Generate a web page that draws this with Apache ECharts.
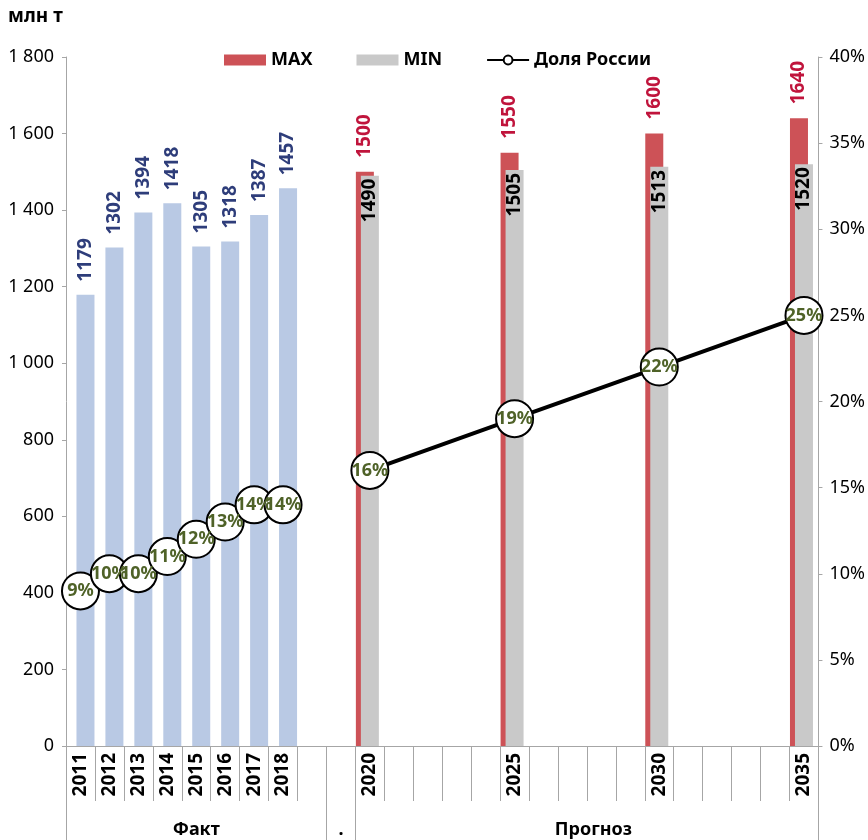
<!DOCTYPE html>
<html>
<head>
<meta charset="utf-8">
<script src="https://cdn.jsdelivr.net/npm/echarts@6/dist/echarts.min.js"></script>
<style>
  html, body { margin: 0; padding: 0; background: #fff; }
  #chart { width: 868px; height: 840px; }
</style>
</head>
<body>
<div id="chart"></div>
<script>
// Category slots along the bottom axis ('' = empty slot)
const years = ['2011','2012','2013','2014','2015','2016','2017','2018','','',
               '2020','','','','','2025','','','','','2030','','','','','2035'];

// Actual production, mln t
const factYears  = ['2011','2012','2013','2014','2015','2016','2017','2018'];
const factValues = [1179, 1302, 1394, 1418, 1305, 1318, 1387, 1457];

// Forecast range, mln t
const forecastYears = ['2020','2025','2030','2035'];
const maxValues = [1500, 1550, 1600, 1640];
const minValues = [1490, 1505, 1513, 1520];

// Russia's share, %
const shareFact     = [9, 10, 10, 11, 12, 13, 14, 14];
const shareForecast = [16, 19, 22, 25];

// Group row under the years: name, first slot, label slot
const groupNames = ['Факт', '.', 'Прогноз'];
const groupStarts = [0, 9, 10];
const groupLabelSlots = [4, 9, 18];

const FONT = 'Noto Sans';

function alignTo(keys, values) {
  const out = years.map(() => null);
  keys.forEach((k, i) => { out[years.indexOf(k)] = values[i]; });
  return out;
}

const factData = alignTo(factYears, factValues);
const maxData = alignTo(forecastYears, maxValues);
const minData = alignTo(forecastYears, minValues);
const shareFactData = alignTo(factYears, shareFact);
const shareForecastData = alignTo(forecastYears, shareForecast);

// second-row categories: group name in its label slot
const groupRow = years.map((_, i) => {
  const g = groupLabelSlots.indexOf(i);
  return g >= 0 ? groupNames[g] : '';
});

const thousands = v => String(v).replace(/\B(?=(\d{3})+(?!\d))/g, ' ');

const axisGrey = '#a6a6a6';

const chart = echarts.init(document.getElementById('chart'), null, { renderer: 'canvas' });

const rotLabelBase = {
  show: true,
  rotate: 90,
  fontFamily: FONT,
  fontWeight: 'bold',
  fontSize: 19,
  verticalAlign: 'middle'
};

const shareLabel = {
  show: true,
  position: 'inside',
  formatter: p => p.value + '%',
  fontFamily: FONT,
  fontWeight: 'bold',
  fontSize: 18,
  color: '#4f6228'
};

chart.setOption({
  animation: false,
  backgroundColor: '#ffffff',
  title: {
    text: 'млн т',
    left: 3,
    top: 2,
    textStyle: { fontFamily: FONT, fontWeight: 'bold', fontSize: 19, color: '#000' }
  },
  legend: {
    data: [
      { name: 'MAX', icon: 'rect' },
      { name: 'MIN', icon: 'rect' },
      { name: 'Доля России' }
    ],
    left: 219,
    top: 46,
    itemWidth: 42,
    itemHeight: 11,
    itemGap: 44,
    textStyle: { fontFamily: FONT, fontWeight: 'bold', fontSize: 18, color: '#000' }
  },
  grid: { left: 66, right: 49, top: 57, bottom: 94, containLabel: false },
  xAxis: [
    {
      type: 'category',
      data: years,
      boundaryGap: true,
      axisLine: { show: true, lineStyle: { color: axisGrey, width: 1 } },
      axisTick: { show: true, interval: 0, length: 55, lineStyle: { color: axisGrey } },
      axisLabel: {
        interval: 0,
        rotate: 90,
        margin: 7,
        fontFamily: FONT,
        fontWeight: 'bold',
        fontSize: 19,
        color: '#000'
      },
      splitLine: { show: false }
    },
    {
      // group row: long separators at each group start and at the end
      type: 'category',
      data: groupRow,
      position: 'bottom',
      boundaryGap: true,
      axisLine: { show: false },
      axisTick: {
        show: true,
        interval: idx => groupStarts.indexOf(idx) >= 0,
        length: 94,
        lineStyle: { color: axisGrey, width: 1 }
      },
      axisLabel: {
        interval: 0,
        formatter: v => v === 'Прогноз' ? '{p|' + v + '}' : v,
        rich: { p: { padding: [0, 16, 0, 0], fontFamily: FONT, fontWeight: 'bold', fontSize: 18, color: '#000' } },
        margin: 75,
        fontFamily: FONT,
        fontWeight: 'bold',
        fontSize: 18,
        color: '#000'
      },
      splitLine: { show: false }
    }
  ],
  yAxis: [
    {
      type: 'value',
      min: 0,
      max: 1800,
      interval: 200,
      axisLine: { show: true, lineStyle: { color: axisGrey } },
      axisTick: { show: true, length: 4, lineStyle: { color: axisGrey } },
      axisLabel: {
        formatter: v => thousands(v),
        margin: 12,
        fontFamily: FONT,
        fontSize: 18,
        color: '#000'
      },
      splitLine: { show: false }
    },
    {
      type: 'value',
      position: 'right',
      min: 0,
      max: 40,
      interval: 5,
      axisLine: { show: true, lineStyle: { color: axisGrey } },
      axisTick: { show: true, length: 4, lineStyle: { color: axisGrey } },
      axisLabel: {
        formatter: v => v + '%',
        margin: 11,
        fontFamily: FONT,
        fontSize: 18,
        color: '#000'
      },
      splitLine: { show: false }
    }
  ],
  series: [
    {
      name: 'MAX',
      type: 'bar',
      data: maxData,
      barWidth: 18,
      barGap: '-72.2%',
      itemStyle: { color: '#cd5257' },
      label: Object.assign({}, rotLabelBase, {
        position: 'top', align: 'left', distance: 14, color: '#c0143c'
      }),
      z: 2
    },
    {
      name: 'MIN',
      type: 'bar',
      data: minData,
      barWidth: 18,
      barGap: '-72.2%',
      itemStyle: { color: '#c9c9c9' },
      label: Object.assign({}, rotLabelBase, {
        position: 'insideTop', align: 'right', distance: 3, color: '#000'
      }),
      z: 3
    },
    {
      name: 'Факт',
      type: 'bar',
      data: factData,
      barWidth: 18,
      barGap: '-72.2%',
      itemStyle: { color: '#b9c9e4' },
      label: Object.assign({}, rotLabelBase, {
        position: 'top', align: 'left', distance: 13, color: '#2e3d7a'
      }),
      z: 2
    },
    {
      name: 'Доля России',
      type: 'line',
      yAxisIndex: 1,
      data: shareFactData,
      connectNulls: false,
      symbol: 'circle',
      symbolSize: 37,
      lineStyle: { color: '#000', width: 4 },
      itemStyle: { color: '#fff', borderColor: '#000', borderWidth: 2 },
      label: shareLabel,
      z: 5
    },
    {
      name: 'Доля России',
      type: 'line',
      yAxisIndex: 1,
      data: shareForecastData,
      connectNulls: true,
      symbol: 'circle',
      symbolSize: 37,
      lineStyle: { color: '#000', width: 4 },
      itemStyle: { color: '#fff', borderColor: '#000', borderWidth: 2 },
      label: shareLabel,
      z: 5
    }
  ]
});
</script>
</body>
</html>
